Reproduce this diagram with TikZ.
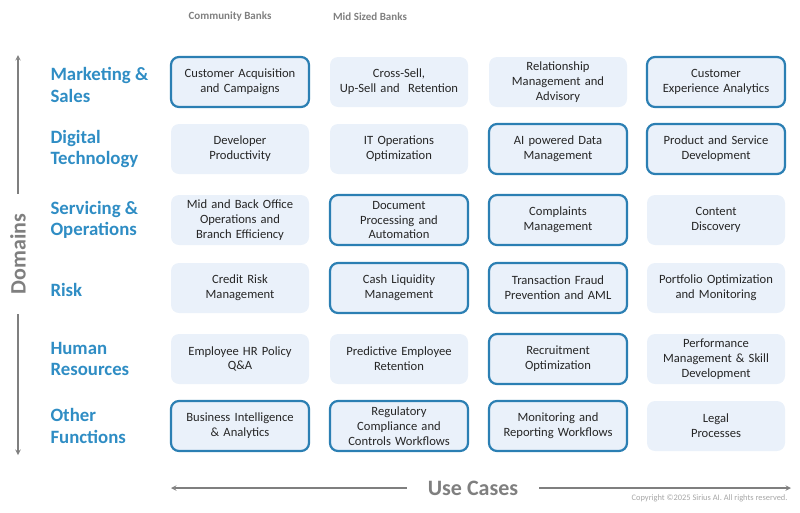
\documentclass[tikz,border=0pt]{standalone}
\usepackage{fontspec}
\setmainfont{Carlito}
\usetikzlibrary{shapes,arrows}
\definecolor{boxfill}{HTML}{EAF1FA}
\definecolor{boxline}{HTML}{2B7FB3}
\definecolor{domblue}{HTML}{2F8DC4}
\definecolor{axisgray}{HTML}{7F7F7F}
\tikzstyle{usecase} = [rectangle, rounded corners=8, fill=boxfill, minimum width=138, minimum height=50, text width=134, align=center, inner sep=2, font=\fontsize{12.6}{14.8}\selectfont, text=black!85]
\tikzstyle{keycase} = [usecase, draw=boxline, line width=2.2]
\tikzstyle{domlabel} = [anchor=west, align=left, text=domblue, font=\fontsize{18.8}{21.5}\selectfont\bfseries]
\tikzstyle{axislabel} = [text=axisgray, font=\fontsize{22}{24}\selectfont\bfseries]
\tikzstyle{arrow} = [line width=1.4, draw=axisgray, ->, >=stealth]

\begin{document}
\begin{tikzpicture}[x=1pt, y=-1pt]
    \useasboundingbox (0,0) rectangle (800,512);
    % Place headers
    \node [text=axisgray, font=\fontsize{11}{12}\selectfont\bfseries] (hdr1) at (230,17) {Community Banks};
    \node [text=axisgray, font=\fontsize{11}{12}\selectfont\bfseries] (hdr2) at (370,17) {Mid Sized Banks};

    % Place domains
    \node [domlabel] (dom1) at (47,85) {Marketing \&\\Sales};
    \node [domlabel] (dom2) at (47,149) {Digital\\Technology};
    \node [domlabel] (dom3) at (47,220) {Servicing \&\\Operations};
    \node [domlabel] (dom4) at (47,290) {Risk};
    \node [domlabel] (dom5) at (47,359) {Human\\Resources};
    \node [domlabel] (dom6) at (47,426) {Other\\Functions};

    % Place use cases
    \node [keycase] (mkt1) at (240,82) {Customer Acquisition\\and Campaigns};
    \node [usecase] (mkt2) at (399,82) {Cross-Sell,\\Up-Sell and\ \ Retention};
    \node [usecase] (mkt3) at (558,82) {Relationship\\Management and\\Advisory};
    \node [keycase] (mkt4) at (716,82) {Customer\\Experience Analytics};

    \node [usecase] (dig1) at (240,149) {Developer\\Productivity};
    \node [usecase] (dig2) at (399,149) {IT Operations\\Optimization};
    \node [keycase] (dig3) at (558,149) {AI powered Data\\Management};
    \node [keycase] (dig4) at (716,149) {Product and Service\\Development};

    \node [usecase] (ops1) at (240,220) {Mid and Back Office\\Operations and\\Branch Efficiency};
    \node [keycase] (ops2) at (399,220) {Document\\Processing and\\Automation};
    \node [keycase] (ops3) at (558,220) {Complaints\\Management};
    \node [usecase] (ops4) at (716,220) {Content\\Discovery};

    \node [usecase] (risk1) at (240,288) {Credit Risk\\Management};
    \node [keycase] (risk2) at (399,288) {Cash Liquidity\\Management};
    \node [keycase] (risk3) at (558,288) {Transaction Fraud\\Prevention and AML};
    \node [usecase] (risk4) at (716,288) {Portfolio Optimization\\and Monitoring};

    \node [usecase] (hr1) at (240,359) {Employee HR Policy\\Q\&A};
    \node [usecase] (hr2) at (399,359) {Predictive Employee\\Retention};
    \node [keycase] (hr3) at (558,359) {Recruitment\\Optimization};
    \node [usecase] (hr4) at (716,359) {Performance\\Management \& Skill\\Development};

    \node [keycase] (oth1) at (240,426) {Business Intelligence\\\& Analytics};
    \node [keycase] (oth2) at (399,426) {Regulatory\\Compliance and\\Controls Workflows};
    \node [keycase] (oth3) at (558,426) {Monitoring and\\Reporting Workflows};
    \node [usecase] (oth4) at (716,426) {Legal\\Processes};

    % Axes
    \node [axislabel, rotate=90, inner xsep=20] (domains) at (18,254) {Domains};
    \coordinate (dtop) at (18,55);
    \coordinate (dbot) at (18,455);
    \draw [arrow] (domains.east) -- (dtop);
    \draw [arrow] (domains.west) -- (dbot);

    \node [axislabel, inner xsep=21] (usecases) at (473,488) {Use Cases};
    \coordinate (uleft) at (171,488);
    \coordinate (uright) at (791,488);
    \draw [arrow] (usecases.west) -- (uleft);
    \draw [arrow] (usecases.east) -- (uright);

    \node [anchor=east, text=black!35, font=\fontsize{8.4}{9}\selectfont] (copy) at (791,498) {Copyright \textcopyright 2025 Sirius AI. All rights reserved.};
\end{tikzpicture}
\end{document}
